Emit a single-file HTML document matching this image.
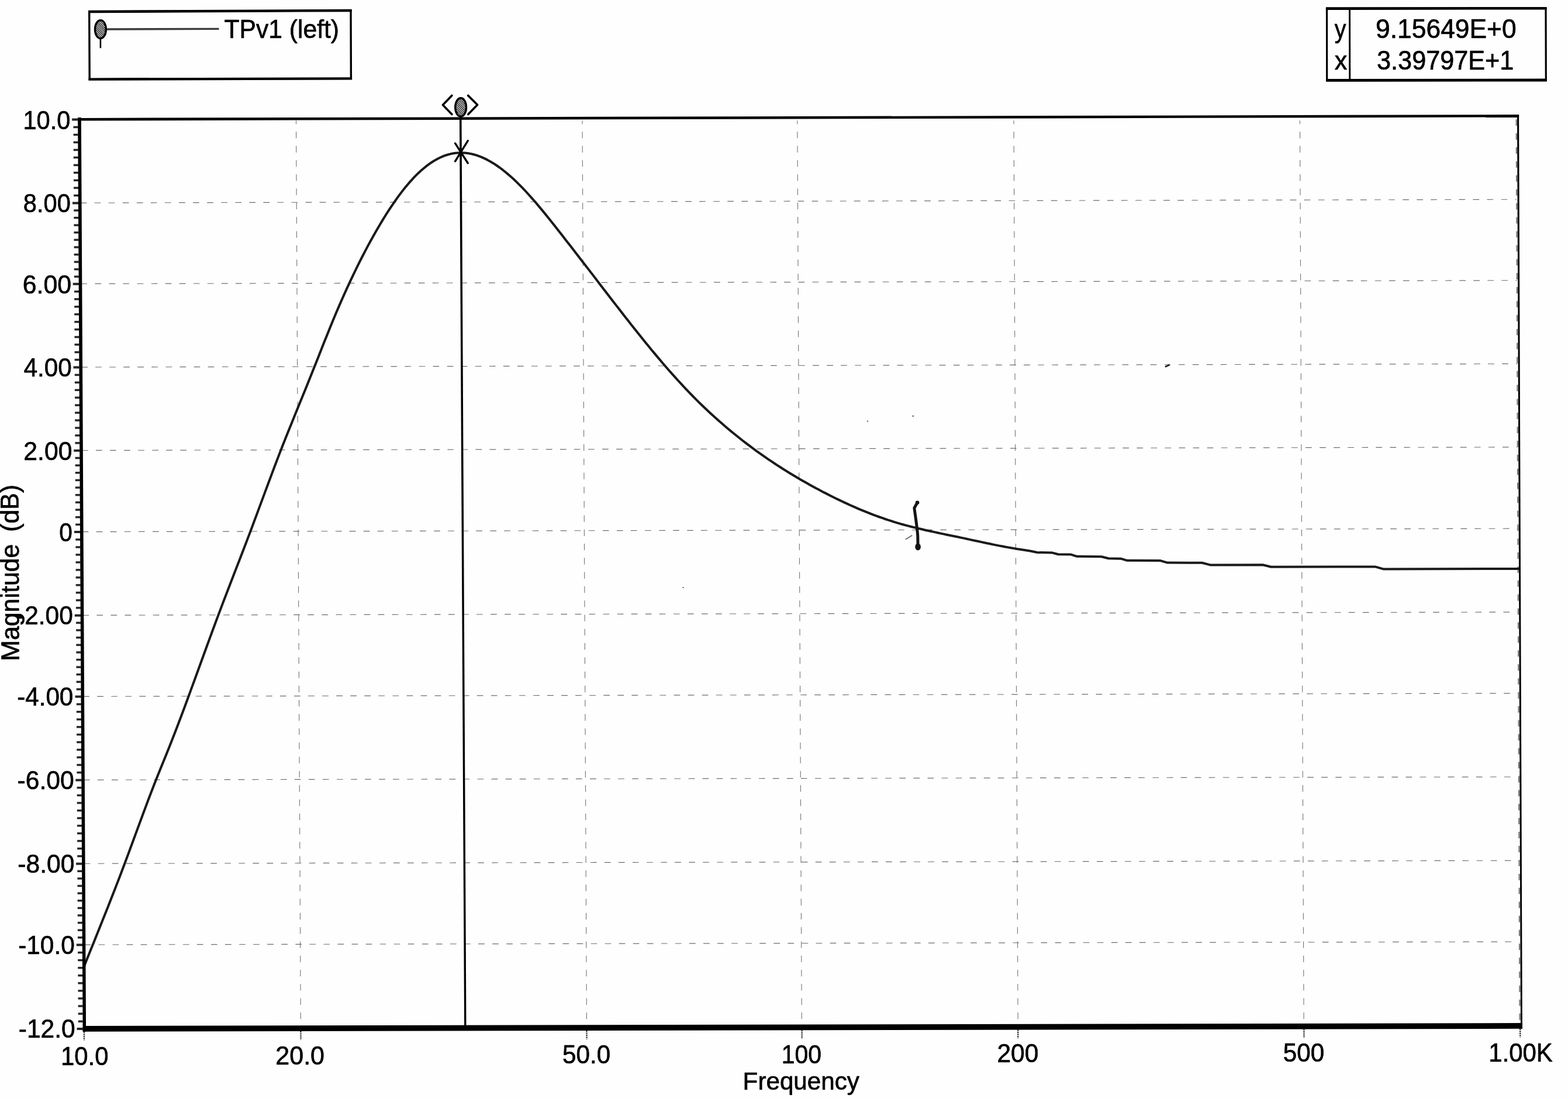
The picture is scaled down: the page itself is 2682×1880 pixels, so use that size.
<!DOCTYPE html>
<html lang="en"><head><meta charset="utf-8"><title>TPv1 (left) - Magnitude (dB) vs Frequency</title>
<style>html,body{margin:0;padding:0;background:#fefefe;}body{width:2682px;height:1880px;overflow:hidden;}svg{display:block;}text{font-family:'Liberation Sans',sans-serif;fill:#000;stroke:#000;stroke-width:0.7px;stroke-linejoin:round;}</style>
</head><body>
<svg width="2682" height="1880" viewBox="0 0 2682 1880">
<defs>
<pattern id="hatch" width="2.6" height="2.6" patternUnits="userSpaceOnUse" patternTransform="rotate(45)"><rect width="2.6" height="2.6" fill="#fff"/><rect width="2.6" height="1.45" fill="#111"/></pattern>
</defs>
<rect x="0" y="0" width="2682" height="1880" fill="#fefefe"/>
<g id="grid" fill="none" stroke-linecap="butt">
<line x1="137.57" y1="347.10" x2="2594.04" y2="341.20" stroke="#6c6c6c" stroke-width="1.15" stroke-dasharray="10.7 13.36"/>
<line x1="138.32" y1="485.49" x2="2594.57" y2="479.68" stroke="#6c6c6c" stroke-width="1.15" stroke-dasharray="10.7 13.36"/>
<line x1="139.09" y1="628.09" x2="2595.11" y2="622.37" stroke="#6c6c6c" stroke-width="1.15" stroke-dasharray="10.7 13.36"/>
<line x1="139.86" y1="770.49" x2="2595.65" y2="764.86" stroke="#6c6c6c" stroke-width="1.15" stroke-dasharray="10.7 13.36"/>
<line x1="140.61" y1="909.69" x2="2596.18" y2="904.15" stroke="#6c6c6c" stroke-width="1.15" stroke-dasharray="10.7 13.36"/>
<line x1="141.38" y1="1052.49" x2="2596.72" y2="1047.04" stroke="#6c6c6c" stroke-width="1.15" stroke-dasharray="10.7 13.36"/>
<line x1="142.13" y1="1191.39" x2="2597.24" y2="1186.03" stroke="#6c6c6c" stroke-width="1.15" stroke-dasharray="10.7 13.36"/>
<line x1="142.90" y1="1334.19" x2="2597.79" y2="1328.92" stroke="#6c6c6c" stroke-width="1.15" stroke-dasharray="10.7 13.36"/>
<line x1="143.67" y1="1477.28" x2="2598.33" y2="1472.11" stroke="#6c6c6c" stroke-width="1.15" stroke-dasharray="10.7 13.36"/>
<line x1="144.42" y1="1616.08" x2="2598.85" y2="1611.00" stroke="#6c6c6c" stroke-width="1.15" stroke-dasharray="10.7 13.36"/>
<line x1="506.51" y1="206.20" x2="514.38" y2="1756.00" stroke="#727272" stroke-width="1.1" stroke-dasharray="11.3 13" stroke-dashoffset="5.2"/>
<line x1="996.01" y1="206.20" x2="1003.48" y2="1756.00" stroke="#727272" stroke-width="1.1" stroke-dasharray="11.3 13" stroke-dashoffset="5.2"/>
<line x1="1363.81" y1="206.20" x2="1371.38" y2="1756.00" stroke="#727272" stroke-width="1.1" stroke-dasharray="11.3 13" stroke-dashoffset="5.2"/>
<line x1="1734.01" y1="206.20" x2="1741.18" y2="1756.00" stroke="#727272" stroke-width="1.1" stroke-dasharray="11.3 13" stroke-dashoffset="5.2"/>
<line x1="2223.41" y1="206.20" x2="2230.18" y2="1756.00" stroke="#727272" stroke-width="1.1" stroke-dasharray="11.3 13" stroke-dashoffset="5.2"/>
<line x1="2593.70" y1="204.20" x2="2599.60" y2="1760.00" stroke="#777" stroke-width="2.2" stroke-dasharray="10.9 13"/>
</g>
<g id="ticks">
<line x1="123.20" y1="204.50" x2="133.40" y2="204.50" stroke="#262626" stroke-width="4.0" />
<line x1="125.47" y1="217.49" x2="133.47" y2="217.49" stroke="#262626" stroke-width="3.5" />
<line x1="125.54" y1="230.48" x2="133.54" y2="230.48" stroke="#262626" stroke-width="3.5" />
<line x1="125.61" y1="243.47" x2="133.61" y2="243.47" stroke="#262626" stroke-width="3.5" />
<line x1="125.68" y1="256.46" x2="133.68" y2="256.46" stroke="#262626" stroke-width="3.5" />
<line x1="125.75" y1="269.45" x2="133.75" y2="269.45" stroke="#262626" stroke-width="3.5" />
<line x1="125.82" y1="282.45" x2="133.82" y2="282.45" stroke="#262626" stroke-width="3.5" />
<line x1="125.89" y1="295.44" x2="133.89" y2="295.44" stroke="#262626" stroke-width="3.5" />
<line x1="125.96" y1="308.43" x2="133.96" y2="308.43" stroke="#262626" stroke-width="3.5" />
<line x1="126.03" y1="321.42" x2="134.03" y2="321.42" stroke="#262626" stroke-width="3.5" />
<line x1="126.10" y1="334.41" x2="134.10" y2="334.41" stroke="#262626" stroke-width="3.5" />
<line x1="123.97" y1="347.40" x2="134.17" y2="347.40" stroke="#262626" stroke-width="4.0" />
<line x1="126.24" y1="359.98" x2="134.24" y2="359.98" stroke="#262626" stroke-width="3.5" />
<line x1="126.31" y1="372.56" x2="134.31" y2="372.56" stroke="#262626" stroke-width="3.5" />
<line x1="126.38" y1="385.15" x2="134.38" y2="385.15" stroke="#262626" stroke-width="3.5" />
<line x1="126.44" y1="397.73" x2="134.44" y2="397.73" stroke="#262626" stroke-width="3.5" />
<line x1="126.51" y1="410.31" x2="134.51" y2="410.31" stroke="#262626" stroke-width="3.5" />
<line x1="126.58" y1="422.89" x2="134.58" y2="422.89" stroke="#262626" stroke-width="3.5" />
<line x1="126.65" y1="435.47" x2="134.65" y2="435.47" stroke="#262626" stroke-width="3.5" />
<line x1="126.71" y1="448.05" x2="134.71" y2="448.05" stroke="#262626" stroke-width="3.5" />
<line x1="126.78" y1="460.64" x2="134.78" y2="460.64" stroke="#262626" stroke-width="3.5" />
<line x1="126.85" y1="473.22" x2="134.85" y2="473.22" stroke="#262626" stroke-width="3.5" />
<line x1="124.72" y1="485.80" x2="134.92" y2="485.80" stroke="#262626" stroke-width="4.0" />
<line x1="126.99" y1="498.76" x2="134.99" y2="498.76" stroke="#262626" stroke-width="3.5" />
<line x1="127.06" y1="511.73" x2="135.06" y2="511.73" stroke="#262626" stroke-width="3.5" />
<line x1="127.13" y1="524.69" x2="135.13" y2="524.69" stroke="#262626" stroke-width="3.5" />
<line x1="127.20" y1="537.65" x2="135.20" y2="537.65" stroke="#262626" stroke-width="3.5" />
<line x1="127.27" y1="550.62" x2="135.27" y2="550.62" stroke="#262626" stroke-width="3.5" />
<line x1="127.34" y1="563.58" x2="135.34" y2="563.58" stroke="#262626" stroke-width="3.5" />
<line x1="127.41" y1="576.55" x2="135.41" y2="576.55" stroke="#262626" stroke-width="3.5" />
<line x1="127.48" y1="589.51" x2="135.48" y2="589.51" stroke="#262626" stroke-width="3.5" />
<line x1="127.55" y1="602.47" x2="135.55" y2="602.47" stroke="#262626" stroke-width="3.5" />
<line x1="127.62" y1="615.44" x2="135.62" y2="615.44" stroke="#262626" stroke-width="3.5" />
<line x1="125.49" y1="628.40" x2="135.69" y2="628.40" stroke="#262626" stroke-width="4.0" />
<line x1="127.76" y1="641.35" x2="135.76" y2="641.35" stroke="#262626" stroke-width="3.5" />
<line x1="127.83" y1="654.29" x2="135.83" y2="654.29" stroke="#262626" stroke-width="3.5" />
<line x1="127.90" y1="667.24" x2="135.90" y2="667.24" stroke="#262626" stroke-width="3.5" />
<line x1="127.97" y1="680.18" x2="135.97" y2="680.18" stroke="#262626" stroke-width="3.5" />
<line x1="128.04" y1="693.13" x2="136.04" y2="693.13" stroke="#262626" stroke-width="3.5" />
<line x1="128.11" y1="706.07" x2="136.11" y2="706.07" stroke="#262626" stroke-width="3.5" />
<line x1="128.18" y1="719.02" x2="136.18" y2="719.02" stroke="#262626" stroke-width="3.5" />
<line x1="128.25" y1="731.96" x2="136.25" y2="731.96" stroke="#262626" stroke-width="3.5" />
<line x1="128.32" y1="744.91" x2="136.32" y2="744.91" stroke="#262626" stroke-width="3.5" />
<line x1="128.39" y1="757.85" x2="136.39" y2="757.85" stroke="#262626" stroke-width="3.5" />
<line x1="126.26" y1="770.80" x2="136.46" y2="770.80" stroke="#262626" stroke-width="4.0" />
<line x1="128.53" y1="783.45" x2="136.53" y2="783.45" stroke="#262626" stroke-width="3.5" />
<line x1="128.59" y1="796.11" x2="136.59" y2="796.11" stroke="#262626" stroke-width="3.5" />
<line x1="128.66" y1="808.76" x2="136.66" y2="808.76" stroke="#262626" stroke-width="3.5" />
<line x1="128.73" y1="821.42" x2="136.73" y2="821.42" stroke="#262626" stroke-width="3.5" />
<line x1="128.80" y1="834.07" x2="136.80" y2="834.07" stroke="#262626" stroke-width="3.5" />
<line x1="128.87" y1="846.73" x2="136.87" y2="846.73" stroke="#262626" stroke-width="3.5" />
<line x1="128.94" y1="859.38" x2="136.94" y2="859.38" stroke="#262626" stroke-width="3.5" />
<line x1="129.00" y1="872.04" x2="137.00" y2="872.04" stroke="#262626" stroke-width="3.5" />
<line x1="129.07" y1="884.69" x2="137.07" y2="884.69" stroke="#262626" stroke-width="3.5" />
<line x1="129.14" y1="897.35" x2="137.14" y2="897.35" stroke="#262626" stroke-width="3.5" />
<line x1="127.01" y1="910.00" x2="137.21" y2="910.00" stroke="#262626" stroke-width="4.0" />
<line x1="129.28" y1="922.98" x2="137.28" y2="922.98" stroke="#262626" stroke-width="3.5" />
<line x1="129.35" y1="935.96" x2="137.35" y2="935.96" stroke="#262626" stroke-width="3.5" />
<line x1="129.42" y1="948.95" x2="137.42" y2="948.95" stroke="#262626" stroke-width="3.5" />
<line x1="129.49" y1="961.93" x2="137.49" y2="961.93" stroke="#262626" stroke-width="3.5" />
<line x1="129.56" y1="974.91" x2="137.56" y2="974.91" stroke="#262626" stroke-width="3.5" />
<line x1="129.63" y1="987.89" x2="137.63" y2="987.89" stroke="#262626" stroke-width="3.5" />
<line x1="129.70" y1="1000.87" x2="137.70" y2="1000.87" stroke="#262626" stroke-width="3.5" />
<line x1="129.77" y1="1013.85" x2="137.77" y2="1013.85" stroke="#262626" stroke-width="3.5" />
<line x1="129.84" y1="1026.84" x2="137.84" y2="1026.84" stroke="#262626" stroke-width="3.5" />
<line x1="129.91" y1="1039.82" x2="137.91" y2="1039.82" stroke="#262626" stroke-width="3.5" />
<line x1="127.78" y1="1052.80" x2="137.98" y2="1052.80" stroke="#262626" stroke-width="4.0" />
<line x1="130.05" y1="1065.43" x2="138.05" y2="1065.43" stroke="#262626" stroke-width="3.5" />
<line x1="130.12" y1="1078.05" x2="138.12" y2="1078.05" stroke="#262626" stroke-width="3.5" />
<line x1="130.18" y1="1090.68" x2="138.18" y2="1090.68" stroke="#262626" stroke-width="3.5" />
<line x1="130.25" y1="1103.31" x2="138.25" y2="1103.31" stroke="#262626" stroke-width="3.5" />
<line x1="130.32" y1="1115.94" x2="138.32" y2="1115.94" stroke="#262626" stroke-width="3.5" />
<line x1="130.39" y1="1128.56" x2="138.39" y2="1128.56" stroke="#262626" stroke-width="3.5" />
<line x1="130.46" y1="1141.19" x2="138.46" y2="1141.19" stroke="#262626" stroke-width="3.5" />
<line x1="130.53" y1="1153.82" x2="138.53" y2="1153.82" stroke="#262626" stroke-width="3.5" />
<line x1="130.59" y1="1166.45" x2="138.59" y2="1166.45" stroke="#262626" stroke-width="3.5" />
<line x1="130.66" y1="1179.07" x2="138.66" y2="1179.07" stroke="#262626" stroke-width="3.5" />
<line x1="128.53" y1="1191.70" x2="138.73" y2="1191.70" stroke="#262626" stroke-width="4.0" />
<line x1="130.80" y1="1204.68" x2="138.80" y2="1204.68" stroke="#262626" stroke-width="3.5" />
<line x1="130.87" y1="1217.66" x2="138.87" y2="1217.66" stroke="#262626" stroke-width="3.5" />
<line x1="130.94" y1="1230.65" x2="138.94" y2="1230.65" stroke="#262626" stroke-width="3.5" />
<line x1="131.01" y1="1243.63" x2="139.01" y2="1243.63" stroke="#262626" stroke-width="3.5" />
<line x1="131.08" y1="1256.61" x2="139.08" y2="1256.61" stroke="#262626" stroke-width="3.5" />
<line x1="131.15" y1="1269.59" x2="139.15" y2="1269.59" stroke="#262626" stroke-width="3.5" />
<line x1="131.22" y1="1282.57" x2="139.22" y2="1282.57" stroke="#262626" stroke-width="3.5" />
<line x1="131.29" y1="1295.55" x2="139.29" y2="1295.55" stroke="#262626" stroke-width="3.5" />
<line x1="131.36" y1="1308.54" x2="139.36" y2="1308.54" stroke="#262626" stroke-width="3.5" />
<line x1="131.43" y1="1321.52" x2="139.43" y2="1321.52" stroke="#262626" stroke-width="3.5" />
<line x1="129.30" y1="1334.50" x2="139.50" y2="1334.50" stroke="#262626" stroke-width="4.0" />
<line x1="131.57" y1="1347.51" x2="139.57" y2="1347.51" stroke="#262626" stroke-width="3.5" />
<line x1="131.64" y1="1360.52" x2="139.64" y2="1360.52" stroke="#262626" stroke-width="3.5" />
<line x1="131.71" y1="1373.53" x2="139.71" y2="1373.53" stroke="#262626" stroke-width="3.5" />
<line x1="131.78" y1="1386.54" x2="139.78" y2="1386.54" stroke="#262626" stroke-width="3.5" />
<line x1="131.85" y1="1399.55" x2="139.85" y2="1399.55" stroke="#262626" stroke-width="3.5" />
<line x1="131.92" y1="1412.55" x2="139.92" y2="1412.55" stroke="#262626" stroke-width="3.5" />
<line x1="131.99" y1="1425.56" x2="139.99" y2="1425.56" stroke="#262626" stroke-width="3.5" />
<line x1="132.06" y1="1438.57" x2="140.06" y2="1438.57" stroke="#262626" stroke-width="3.5" />
<line x1="132.13" y1="1451.58" x2="140.13" y2="1451.58" stroke="#262626" stroke-width="3.5" />
<line x1="132.20" y1="1464.59" x2="140.20" y2="1464.59" stroke="#262626" stroke-width="3.5" />
<line x1="130.07" y1="1477.60" x2="140.27" y2="1477.60" stroke="#262626" stroke-width="4.0" />
<line x1="132.34" y1="1490.22" x2="140.34" y2="1490.22" stroke="#262626" stroke-width="3.5" />
<line x1="132.41" y1="1502.84" x2="140.41" y2="1502.84" stroke="#262626" stroke-width="3.5" />
<line x1="132.48" y1="1515.45" x2="140.48" y2="1515.45" stroke="#262626" stroke-width="3.5" />
<line x1="132.55" y1="1528.07" x2="140.55" y2="1528.07" stroke="#262626" stroke-width="3.5" />
<line x1="132.61" y1="1540.69" x2="140.61" y2="1540.69" stroke="#262626" stroke-width="3.5" />
<line x1="132.68" y1="1553.31" x2="140.68" y2="1553.31" stroke="#262626" stroke-width="3.5" />
<line x1="132.75" y1="1565.93" x2="140.75" y2="1565.93" stroke="#262626" stroke-width="3.5" />
<line x1="132.82" y1="1578.55" x2="140.82" y2="1578.55" stroke="#262626" stroke-width="3.5" />
<line x1="132.89" y1="1591.16" x2="140.89" y2="1591.16" stroke="#262626" stroke-width="3.5" />
<line x1="132.95" y1="1603.78" x2="140.95" y2="1603.78" stroke="#262626" stroke-width="3.5" />
<line x1="130.82" y1="1616.40" x2="141.02" y2="1616.40" stroke="#262626" stroke-width="4.0" />
<line x1="133.09" y1="1629.48" x2="141.09" y2="1629.48" stroke="#262626" stroke-width="3.5" />
<line x1="133.16" y1="1642.56" x2="141.16" y2="1642.56" stroke="#262626" stroke-width="3.5" />
<line x1="133.23" y1="1655.65" x2="141.23" y2="1655.65" stroke="#262626" stroke-width="3.5" />
<line x1="133.31" y1="1668.73" x2="141.31" y2="1668.73" stroke="#262626" stroke-width="3.5" />
<line x1="133.38" y1="1681.81" x2="141.38" y2="1681.81" stroke="#262626" stroke-width="3.5" />
<line x1="133.45" y1="1694.89" x2="141.45" y2="1694.89" stroke="#262626" stroke-width="3.5" />
<line x1="133.52" y1="1707.97" x2="141.52" y2="1707.97" stroke="#262626" stroke-width="3.5" />
<line x1="133.59" y1="1721.05" x2="141.59" y2="1721.05" stroke="#262626" stroke-width="3.5" />
<line x1="133.66" y1="1734.14" x2="141.66" y2="1734.14" stroke="#262626" stroke-width="3.5" />
<line x1="133.73" y1="1747.22" x2="141.73" y2="1747.22" stroke="#262626" stroke-width="3.5" />
<line x1="131.60" y1="1760.00" x2="141.80" y2="1760.00" stroke="#262626" stroke-width="4.0" />
<line x1="143.90" y1="1764.80" x2="143.98" y2="1779.40" stroke="#2a2a2a" stroke-width="2.4" stroke-dasharray="2.3 1.2"/>
<line x1="514.40" y1="1764.04" x2="514.48" y2="1778.64" stroke="#2a2a2a" stroke-width="2.4" stroke-dasharray="2.3 1.2"/>
<line x1="1003.50" y1="1763.05" x2="1003.58" y2="1777.65" stroke="#2a2a2a" stroke-width="2.4" stroke-dasharray="2.3 1.2"/>
<line x1="1371.60" y1="1762.30" x2="1371.68" y2="1776.90" stroke="#2a2a2a" stroke-width="2.4" stroke-dasharray="2.3 1.2"/>
<line x1="1741.20" y1="1761.55" x2="1741.28" y2="1776.15" stroke="#2a2a2a" stroke-width="2.4" stroke-dasharray="2.3 1.2"/>
<line x1="2230.40" y1="1760.56" x2="2230.48" y2="1775.16" stroke="#2a2a2a" stroke-width="2.4" stroke-dasharray="2.3 1.2"/>
<line x1="2600.20" y1="1759.81" x2="2600.28" y2="1774.41" stroke="#2a2a2a" stroke-width="2.4" stroke-dasharray="2.3 1.2"/>
</g>
<path id="curve" d="M144.4,1651.7 L149.4,1639.3 L154.4,1626.8 L159.4,1614.4 L164.4,1602.0 L169.4,1589.6 L174.4,1577.1 L179.4,1564.6 L184.4,1552.0 L189.4,1539.3 L194.4,1526.5 L199.4,1513.6 L204.4,1500.7 L209.4,1487.5 L214.4,1474.3 L219.4,1460.9 L224.4,1447.3 L229.4,1433.8 L234.4,1420.1 L239.4,1406.6 L244.4,1393.0 L249.4,1379.6 L254.4,1366.3 L259.4,1353.2 L264.4,1340.3 L269.4,1327.7 L274.4,1315.3 L279.4,1303.0 L284.4,1290.7 L289.4,1278.3 L294.4,1265.6 L299.4,1252.8 L304.4,1239.7 L309.4,1226.5 L314.4,1213.2 L319.4,1199.7 L324.4,1186.1 L329.4,1172.4 L334.4,1158.7 L339.4,1145.0 L344.4,1131.2 L349.4,1117.5 L354.4,1103.7 L359.4,1090.1 L364.4,1076.5 L369.4,1063.0 L374.4,1049.6 L379.4,1036.4 L384.4,1023.3 L389.4,1010.2 L394.4,997.3 L399.4,984.3 L404.4,971.4 L409.4,958.5 L414.4,945.5 L419.4,932.5 L424.4,919.4 L429.4,906.2 L434.4,892.8 L439.4,879.4 L444.4,865.9 L449.4,852.4 L454.4,838.9 L459.4,825.5 L464.4,812.1 L469.4,798.8 L474.4,785.6 L479.4,772.6 L484.4,759.8 L489.4,747.2 L494.4,734.7 L499.4,722.4 L504.4,710.1 L509.4,697.8 L514.4,685.6 L519.4,673.3 L524.4,661.0 L529.4,648.6 L534.4,636.1 L539.4,623.5 L544.4,610.9 L549.4,598.2 L554.4,585.6 L559.4,573.2 L564.4,560.8 L569.4,548.6 L574.4,536.6 L579.4,524.9 L584.4,513.4 L589.4,502.1 L594.4,491.1 L599.4,480.3 L604.4,469.8 L609.4,459.5 L614.4,449.4 L619.4,439.5 L624.4,429.8 L629.4,420.4 L634.4,411.2 L639.4,402.2 L644.4,393.5 L649.4,384.9 L654.4,376.6 L659.4,368.5 L664.4,360.7 L669.4,353.1 L674.4,345.8 L679.4,338.7 L684.4,331.9 L689.4,325.4 L694.4,319.1 L699.4,313.2 L704.4,307.6 L709.4,302.2 L714.4,297.2 L719.4,292.5 L724.4,288.2 L729.4,284.1 L734.4,280.4 L739.4,277.0 L744.4,273.9 L749.4,271.2 L754.4,268.8 L759.4,266.7 L764.4,265.0 L769.4,263.6 L774.4,262.5 L779.4,261.8 L784.4,261.4 L789.4,261.3 L794.4,261.5 L799.4,262.0 L804.4,262.9 L809.4,264.0 L814.4,265.4 L819.4,267.2 L824.4,269.1 L829.4,271.4 L834.4,273.9 L839.4,276.7 L844.4,279.7 L849.4,283.0 L854.4,286.5 L859.4,290.2 L864.4,294.2 L869.4,298.4 L874.4,302.8 L879.4,307.3 L884.4,312.1 L889.4,317.1 L894.4,322.2 L899.4,327.5 L904.4,333.0 L909.4,338.6 L914.4,344.3 L919.4,350.1 L924.4,356.1 L929.4,362.1 L934.4,368.3 L939.4,374.5 L944.4,380.7 L949.4,387.1 L954.4,393.4 L959.4,399.8 L964.4,406.2 L969.4,412.7 L974.4,419.1 L979.4,425.5 L984.4,432.0 L989.4,438.5 L994.4,445.0 L999.4,451.4 L1004.4,457.9 L1009.4,464.4 L1014.4,470.9 L1019.4,477.4 L1024.4,484.0 L1029.4,490.5 L1034.4,497.0 L1039.4,503.5 L1044.4,510.0 L1049.4,516.4 L1054.4,522.9 L1059.4,529.3 L1064.4,535.8 L1069.4,542.2 L1074.4,548.6 L1079.4,554.9 L1084.4,561.2 L1089.4,567.5 L1094.4,573.8 L1099.4,580.0 L1104.4,586.2 L1109.4,592.3 L1114.4,598.4 L1119.4,604.4 L1124.4,610.4 L1129.4,616.3 L1134.4,622.2 L1139.4,628.0 L1144.4,633.7 L1149.4,639.4 L1154.4,644.9 L1159.4,650.5 L1164.4,655.9 L1169.4,661.3 L1174.4,666.6 L1179.4,671.9 L1184.4,677.0 L1189.4,682.1 L1194.4,687.1 L1199.4,692.0 L1204.4,696.8 L1209.4,701.5 L1214.4,706.2 L1219.4,710.8 L1224.4,715.3 L1229.4,719.7 L1234.4,724.1 L1239.4,728.4 L1244.4,732.7 L1249.4,736.9 L1254.4,741.0 L1259.4,745.0 L1264.4,749.0 L1269.4,753.0 L1274.4,756.8 L1279.4,760.6 L1284.4,764.4 L1289.4,768.1 L1294.4,771.8 L1299.4,775.3 L1304.4,778.9 L1309.4,782.4 L1314.4,785.8 L1319.4,789.2 L1324.4,792.5 L1329.4,795.8 L1334.4,799.0 L1339.4,802.2 L1344.4,805.4 L1349.4,808.5 L1354.4,811.5 L1359.4,814.5 L1364.4,817.5 L1369.4,820.4 L1374.4,823.3 L1379.4,826.1 L1384.4,828.9 L1389.4,831.7 L1394.4,834.4 L1399.4,837.1 L1404.4,839.7 L1409.4,842.4 L1414.4,844.9 L1419.4,847.5 L1424.4,850.0 L1429.4,852.5 L1434.4,854.9 L1439.4,857.3 L1444.4,859.6 L1449.4,861.9 L1454.4,864.2 L1459.4,866.4 L1464.4,868.6 L1469.4,870.8 L1474.4,872.9 L1479.4,874.9 L1484.4,876.9 L1489.4,878.9 L1494.4,880.8 L1499.4,882.7 L1504.4,884.5 L1509.4,886.2 L1514.4,888.0 L1519.4,889.6 L1524.4,891.2 L1529.4,892.8 L1534.4,894.3 L1539.4,895.8 L1544.4,897.2 L1549.4,898.6 L1554.4,899.9 L1559.4,901.2 L1564.4,902.4 L1569.4,903.7 L1574.4,904.8 L1579.4,906.0 L1584.4,907.2 L1589.4,908.3 L1594.4,909.4 L1599.4,910.4 L1604.4,911.5 L1609.4,912.6 L1614.4,913.6 L1619.4,914.7 L1624.4,915.7 L1629.4,916.7 L1634.4,917.8 L1639.4,918.8 L1644.4,919.9 L1649.4,920.9 L1654.4,922.0 L1659.4,923.1 L1664.4,924.2 L1669.4,925.2 L1674.4,926.3 L1679.4,927.4 L1684.4,928.5 L1689.4,929.5 L1694.4,930.5 L1699.4,931.6 L1704.4,932.6 L1709.4,933.6 L1714.4,934.5 L1719.4,935.5 L1724.4,936.4 L1729.4,937.3 L1734.4,938.1 L1739.4,939.0 L1744.4,939.7 L1749.4,940.5 L1762.0,942.5 L1774.0,945.0 L1800.0,945.6 L1810.0,948.2 L1832.0,948.6 L1842.0,951.8 L1884.0,952.2 L1896.0,955.2 L1918.0,955.8 L1928.0,958.8 L1984.0,958.9 L1997.0,962.6 L2056.0,962.7 L2070.0,966.4 L2160.0,966.2 L2174.0,969.7 L2352.0,969.4 L2366.0,973.4 L2598.0,973.0" fill="none" stroke="#1a1a1a" stroke-width="4.0" stroke-linejoin="round" stroke-linecap="butt"/>
<g id="frame" fill="#000" stroke="none">
<polygon points="133.1,201.9 2598.1,196.1 2598.1,200.4 133.1,206.5"/>
<polygon points="141.8,1755.0 2603.9,1750.1 2603.9,1759.8 141.8,1764.8"/>
<polygon points="133.1,201.0 138.8,201.0 147.1,1764.8 141.6,1764.8"/>
<polygon points="2595.0,196.1 2598.1,196.1 2603.9,1759.8 2601.0,1759.8"/>
</g>
<g id="cursor" stroke="#000" fill="none">
<polygon points="785.9,198 789.5,198 797.5,1756 794.1,1756" fill="#000" stroke="none"/>
<line x1="778.60" y1="245.20" x2="800.20" y2="279.00" stroke="#000" stroke-width="3.4" stroke-linecap="round"/>
<line x1="800.20" y1="240.80" x2="778.60" y2="275.90" stroke="#000" stroke-width="3.4" stroke-linecap="round"/>
<ellipse cx="788.1" cy="183.5" rx="9.4" ry="15.8" fill="url(#hatch)" stroke="#000" stroke-width="3.4"/>
<polyline points="772.8,163.4 757.5,179.6 772.9,195.5" stroke-width="3.6" stroke-linejoin="round" stroke-linecap="round"/>
<polyline points="800.6,163.4 816.6,179.2 800.8,195.5" stroke-width="3.6" stroke-linejoin="round" stroke-linecap="round"/>
</g>
<g id="legend">
<polygon points="152.7,20.0 600.0,18.0 600.4,134.4 153.2,135.6" fill="none" stroke="#000" stroke-width="3.4"/>
<line x1="151.00" y1="20.00" x2="601.70" y2="18.00" stroke="#000" stroke-width="4.4" />
<line x1="151.50" y1="135.60" x2="602.10" y2="134.40" stroke="#000" stroke-width="4.4" />
<line x1="183.00" y1="50.00" x2="374.50" y2="49.40" stroke="#3c3c3c" stroke-width="3.4" />
<line x1="171.90" y1="66.00" x2="171.90" y2="82.30" stroke="#000" stroke-width="2.6" />
<ellipse cx="171.9" cy="50.2" rx="9.4" ry="15.6" fill="url(#hatch)" stroke="#000" stroke-width="3.4"/>
<text font-size="43.65" transform="translate(383.54,64.66) scale(0.9765,1)" xml:space="preserve">TPv1 (left)</text>
</g>
<g id="readout">
<polygon points="2269.5,14.6 2644.0,14.2 2644.3,137.2 2269.7,137.6" fill="none" stroke="#000" stroke-width="3.2"/>
<line x1="2267.90" y1="14.60" x2="2645.60" y2="14.20" stroke="#000" stroke-width="4.6" />
<line x1="2268.10" y1="137.40" x2="2645.90" y2="137.00" stroke="#000" stroke-width="4.8" />
<line x1="2308.50" y1="14.50" x2="2308.70" y2="137.00" stroke="#000" stroke-width="3.0" />
<text font-size="46.15" transform="translate(2353.09,65.26) scale(0.9617,1)" xml:space="preserve">9.15649E+0</text>
<text font-size="46.15" transform="translate(2355.08,119.26) scale(0.9366,1)" xml:space="preserve">3.39797E+1</text>
<text font-size="43.53" transform="translate(2282.70,65.26) scale(0.9051,1)" xml:space="preserve">y</text>
<text font-size="43.53" transform="translate(2282.76,119.26) scale(0.9915,1)" xml:space="preserve">x</text>
</g>
<g id="ylabels">
<text font-size="44.13" transform="translate(39.38,220.56) scale(0.9435,1)" xml:space="preserve">10.0</text>
<text font-size="44.13" transform="translate(39.83,363.36) scale(0.9429,1)" xml:space="preserve">8.00</text>
<text font-size="44.13" transform="translate(38.76,501.76) scale(0.9711,1)" xml:space="preserve">6.00</text>
<text font-size="44.13" transform="translate(40.65,644.16) scale(0.9557,1)" xml:space="preserve">4.00</text>
<text font-size="44.13" transform="translate(40.37,786.76) scale(0.9674,1)" xml:space="preserve">2.00</text>
<text font-size="44.13" transform="translate(101.37,925.56) scale(0.9207,1)" xml:space="preserve">0</text>
<text font-size="44.13" transform="translate(28.09,1068.36) scale(0.9611,1)" xml:space="preserve">-2.00</text>
<text font-size="44.13" transform="translate(29.20,1207.06) scale(0.9560,1)" xml:space="preserve">-4.00</text>
<text font-size="44.13" transform="translate(29.58,1350.06) scale(0.9653,1)" xml:space="preserve">-6.00</text>
<text font-size="44.13" transform="translate(30.28,1492.86) scale(0.9653,1)" xml:space="preserve">-8.00</text>
<text font-size="44.13" transform="translate(31.19,1631.76) scale(0.9601,1)" xml:space="preserve">-10.0</text>
<text font-size="44.13" transform="translate(31.79,1774.86) scale(0.9632,1)" xml:space="preserve">-12.0</text>
</g>
<g id="xlabels">
<text font-size="44.13" transform="translate(103.96,1821.76) scale(0.9485,1)" xml:space="preserve">10.0</text>
<text font-size="44.13" transform="translate(471.25,1820.86) scale(0.9760,1)" xml:space="preserve">20.0</text>
<text font-size="44.13" transform="translate(962.11,1819.46) scale(0.9574,1)" xml:space="preserve">50.0</text>
<text font-size="44.13" transform="translate(1336.72,1818.56) scale(0.9297,1)" xml:space="preserve">100</text>
<text font-size="44.13" transform="translate(1705.47,1817.26) scale(0.9638,1)" xml:space="preserve">200</text>
<text font-size="44.13" transform="translate(2194.71,1816.36) scale(0.9563,1)" xml:space="preserve">500</text>
<text font-size="44.13" transform="translate(2546.15,1815.66) scale(0.9512,1)" xml:space="preserve">1.00K</text>
</g>
<text font-size="43.29" transform="translate(1270.62,1864.16) scale(0.9748,1)" xml:space="preserve">Frequency</text>
<text font-size="43.87" word-spacing="9.06" transform="translate(32.66,1130.74) rotate(-90.25) scale(0.9770,1)">Magnitude (dB)</text>
<g id="marks" fill="none" stroke-linecap="round" stroke-linejoin="round">
<path d="M1569.2,859.6 L1563.9,869.0 C1564.6,875 1565.2,879 1565.7,882.2 C1566.6,889 1567.4,895 1568.0,899.6 C1568.8,906 1569.5,912 1569.8,917 L1570.1,936" stroke="#141414" stroke-width="5.0"/>
<circle cx="1569.1" cy="859.8" r="3.3" fill="#141414" stroke="none"/>
<ellipse cx="1570.1" cy="935.4" rx="4.8" ry="6.0" fill="#141414" stroke="none"/>
<path d="M1549.5,922.3 L1559.6,916.2" stroke="#777" stroke-width="2.0"/>
<path d="M1994,627 L1999.5,624.5" stroke="#222" stroke-width="3"/>
<circle cx="1484" cy="720.7" r="1.4" fill="#888" stroke="none"/>
<circle cx="1561.7" cy="711.7" r="1.3" fill="#555" stroke="none"/>
<circle cx="1168.5" cy="1005" r="1.1" fill="#444" stroke="none"/>
</g>
</svg>
</body></html>
